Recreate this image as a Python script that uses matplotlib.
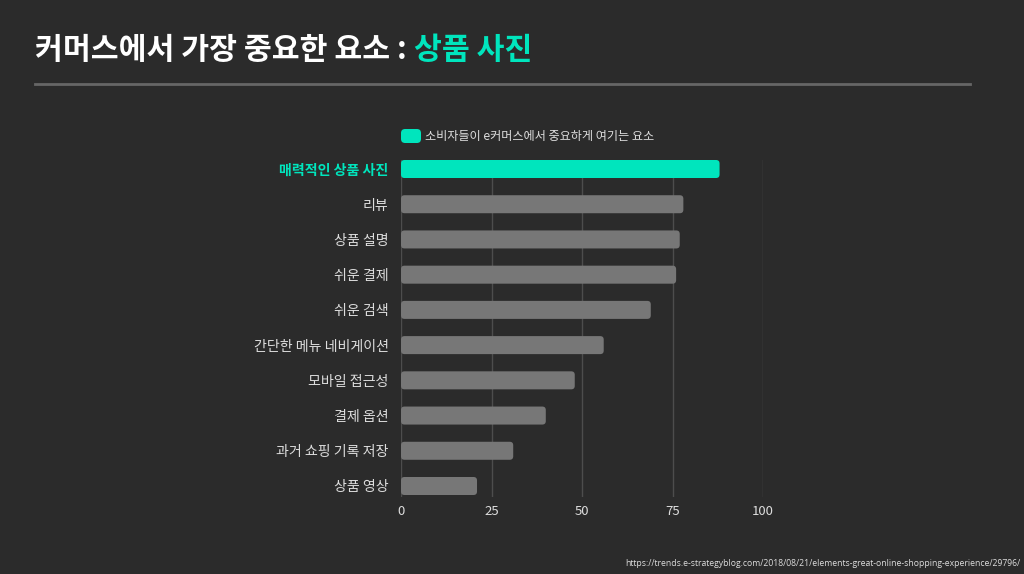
import matplotlib
matplotlib.use("Agg")
import matplotlib.pyplot as plt
from matplotlib.patches import FancyBboxPatch
from matplotlib.lines import Line2D

plt.rcParams['font.family'] = ['Noto Sans CJK KR', 'DejaVu Sans']

categories = ["매력적인 상품 사진", "리뷰", "상품 설명", "쉬운 결제", "쉬운 검색",
              "간단한 메뉴 네비게이션", "모바일 접근성", "결제 옵션", "과거 쇼핑 기록 저장", "상품 영상"]
values = [88, 78, 77, 76, 69, 56, 48, 40, 31, 21]
xticks = [0, 25, 50, 75, 100]
legend_label = "소비자들이 e커머스에서 중요하게 여기는 요소"
title_main = "커머스에서 가장 중요한 요소 : "
title_accent = "상품 사진"
source = "https://trends.e-strategyblog.com/2018/08/21/elements-great-online-shopping-experience/29796/"

BG = "#2b2b2b"
TEAL = "#00e5bd"
GRAY = "#777777"
GRID = "#4d4d4d"
TXT = "#dddddd"

W, H = 1024, 574
fig = plt.figure(figsize=(W / 100, H / 100), dpi=100, facecolor=BG)

left, right = 401 / W, 763 / W
top_px, bot_px = 160, 497
ax = fig.add_axes([left, 1 - bot_px / H, right - left, (bot_px - top_px) / H])
ax.set_facecolor(BG)

n = len(categories)
row_px = 35.2
y_top = -(9 / row_px)
y_bot = (n - 1) + (497 - 486) / row_px
ax.set_xlim(0, 100)
ax.set_ylim(y_bot, y_top)

xunit_px = (763 - 401) / 100
bar_h = 18 / row_px
aspect = (1 / row_px) / (1 / xunit_px)
for i, v in enumerate(values):
    color = TEAL if i == 0 else GRAY
    p = FancyBboxPatch((0, i - bar_h / 2), v, bar_h,
                       boxstyle="round,pad=0,rounding_size=%f" % (3.5 / xunit_px),
                       mutation_aspect=aspect, facecolor=color, edgecolor='none', zorder=3)
    ax.add_patch(p)

ax.set_xticks(xticks)
ax.set_xticklabels([str(t) for t in xticks])
ax.set_yticks(range(n))
ax.set_yticklabels(categories)
ax.tick_params(axis='both', length=0, colors=TXT)
ax.tick_params(axis='y', pad=9, labelsize=10.1)
ax.tick_params(axis='x', pad=6, labelsize=9.5)
for lbl in ax.get_yticklabels():
    lbl.set_color(TXT)
    lbl.set_fontweight('medium')
first = ax.get_yticklabels()[0]
first.set_color(TEAL)
first.set_fontweight('bold')

ax.grid(axis='x', color=GRID, linewidth=1, zorder=0)
ax.grid(axis='y', visible=False)
for s in ax.spines.values():
    s.set_visible(False)

# Title
t1 = fig.text(35 / W, 1 - 50 / H, title_main, color='white', fontsize=21.8,
              fontweight='bold', va='center', ha='left')
fig.canvas.draw()
bb = t1.get_window_extent()
fig.text(bb.x1 / W, 1 - 50 / H, title_accent, color=TEAL, fontsize=21.8,
         fontweight='bold', va='center', ha='left')

# Separator line
fig.add_artist(Line2D([35 / W, 970 / W], [1 - 84 / H, 1 - 84 / H], color="#666666",
                      linewidth=2, transform=fig.transFigure))

# Legend
leg_patch = FancyBboxPatch((401 / W, 1 - 143 / H), 20 / W, 14 / H,
                           boxstyle="round,pad=0,rounding_size=0.004",
                           mutation_aspect=W / H, transform=fig.transFigure,
                           facecolor=TEAL, edgecolor='none')
fig.add_artist(leg_patch)
fig.text(425 / W, 1 - 136 / H, legend_label, color=TXT, fontsize=8.75, va='center', ha='left')

# Source
fig.text(1020 / W, 1 - 563 / H, source, color=TXT, fontsize=6.2, va='center', ha='right',
         family=['Open Sans', 'DejaVu Sans'])

fig.savefig("out.png", dpi=100, facecolor=BG)
